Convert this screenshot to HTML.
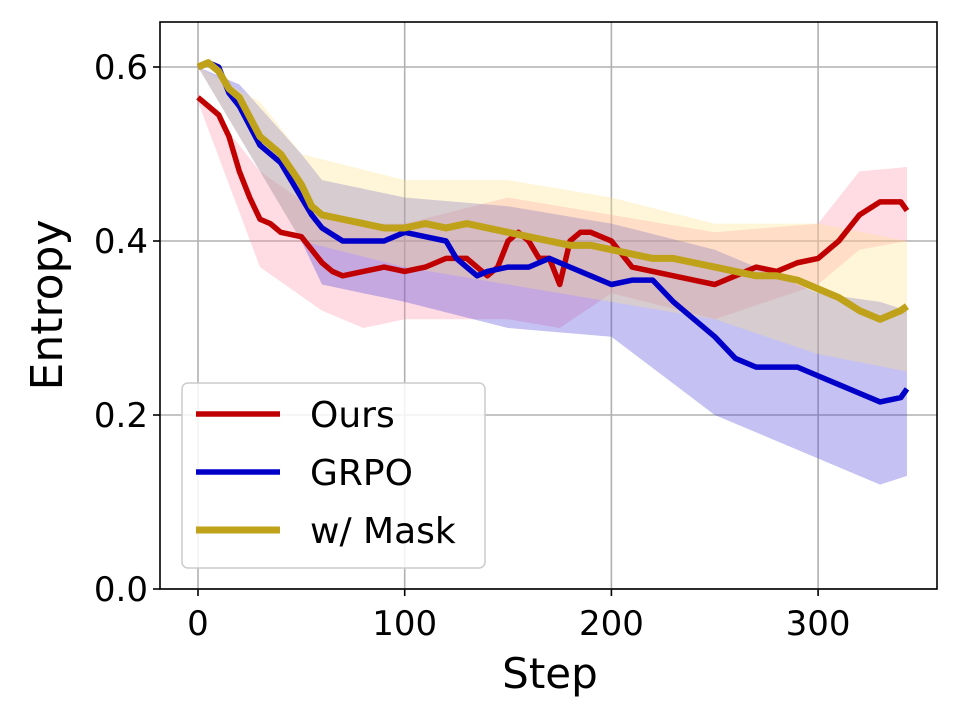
<!DOCTYPE html>
<html><head><meta charset="utf-8"><style>
html,body{margin:0;padding:0;background:#fff}
svg{display:block;font-family:"DejaVu Sans","Liberation Sans",sans-serif}
</style></head><body>
<svg id="chart" width="960" height="720"></svg>
<script>
const xTicks=[0,100,200,300];
const yTicks=[0.0,0.2,0.4,0.6];
const yTickLabels=["0.0","0.2","0.4","0.6"];
const oursSteps=[0,5,10,15,20,25,30,35,40,50,55,60,65,70,80,90,100,110,120,130,140,145,150,155,160,165,170,175,180,185,190,200,210,220,230,240,250,260,270,280,290,300,310,320,330,340,343];
const oursVals=[0.565,0.555,0.545,0.52,0.48,0.45,0.425,0.42,0.41,0.405,0.39,0.375,0.365,0.36,0.365,0.37,0.365,0.37,0.38,0.38,0.36,0.37,0.4,0.41,0.4,0.38,0.38,0.35,0.4,0.41,0.41,0.4,0.37,0.365,0.36,0.355,0.35,0.36,0.37,0.365,0.375,0.38,0.4,0.43,0.445,0.445,0.435];
const oursBandSteps=[0,30,60,80,100,150,175,200,250,300,320,343];
const oursUpper=[0.57,0.48,0.43,0.42,0.42,0.45,0.44,0.43,0.41,0.42,0.48,0.485];
const oursLower=[0.56,0.37,0.32,0.30,0.31,0.31,0.30,0.34,0.31,0.35,0.39,0.40];
const grpoSteps=[0,5,10,15,20,30,40,45,50,55,60,70,80,90,100,110,120,125,130,135,140,150,160,170,180,190,200,210,220,230,240,250,260,270,280,290,300,310,320,330,340,343];
const grpoVals=[0.6,0.605,0.6,0.57,0.555,0.51,0.49,0.47,0.45,0.43,0.415,0.4,0.4,0.4,0.41,0.405,0.4,0.38,0.37,0.36,0.365,0.37,0.37,0.38,0.37,0.36,0.35,0.355,0.355,0.33,0.31,0.29,0.265,0.255,0.255,0.255,0.245,0.235,0.225,0.215,0.22,0.23];
const grpoBandSteps=[0,20,50,60,80,100,150,200,250,300,330,343];
const grpoUpper=[0.6,0.58,0.5,0.47,0.46,0.45,0.44,0.42,0.39,0.34,0.33,0.32];
const grpoLower=[0.6,0.52,0.4,0.35,0.34,0.33,0.3,0.29,0.2,0.15,0.12,0.13];
const maskSteps=[0,5,10,15,20,30,40,50,55,60,70,80,90,100,110,120,130,140,150,160,170,180,190,200,210,220,230,240,250,260,270,280,290,300,310,320,330,340,343];
const maskVals=[0.6,0.605,0.595,0.575,0.565,0.52,0.5,0.465,0.44,0.43,0.425,0.42,0.415,0.415,0.42,0.415,0.42,0.415,0.41,0.405,0.4,0.395,0.395,0.39,0.385,0.38,0.38,0.375,0.37,0.365,0.36,0.36,0.355,0.345,0.335,0.32,0.31,0.32,0.325];
const maskBandSteps=[0,30,50,100,150,200,250,300,343];
const maskUpper=[0.6,0.56,0.5,0.47,0.47,0.45,0.42,0.42,0.4];
const maskLower=[0.6,0.48,0.4,0.37,0.35,0.33,0.31,0.27,0.25];

const NS="http://www.w3.org/2000/svg";
const svg=document.getElementById('chart');
const L=160,R=937,T=22,B=589;
const xs=v=>198+v*2.067;
const ys=v=>589-v*870;
function mk(tag,attrs,parent){const e=document.createElementNS(NS,tag);for(const k in attrs)e.setAttribute(k,attrs[k]);(parent||svg).appendChild(e);return e;}
xTicks.forEach((t,i)=>{
 const g=mk('line',{x1:xs(t),x2:xs(t),y1:T,y2:B,stroke:'#b0b0b0','stroke-width':1.6});
 
 
 const tk=mk('line',{x1:xs(t),x2:xs(t),y1:B,y2:B+7,stroke:'#000','stroke-width':1.6});
 
 
 const tx=mk('text',{x:xs(t),y:B+46,'font-size':34,'text-anchor':'middle'});tx.textContent=t;
 
 
});
yTicks.forEach((t,i)=>{
 const g=mk('line',{x1:L,x2:R,y1:ys(t),y2:ys(t),stroke:'#b0b0b0','stroke-width':1.6});
 
 
 const tk=mk('line',{x1:L-7,x2:L,y1:ys(t),y2:ys(t),stroke:'#000','stroke-width':1.6});
 
 
 const tx=mk('text',{x:L-12,y:ys(t)+12,'font-size':34,'text-anchor':'end'});tx.textContent=yTickLabels[i];
 
 
});
function band(st,up,lo,color,name){
 let d='M'+st.map((s,i)=>xs(s)+','+ys(up[i])).join('L');
 for(let i=st.length-1;i>=0;i--)d+='L'+xs(st[i])+','+ys(lo[i]);
 const p=mk('path',{d:d+'Z',fill:color,'fill-opacity':0.32,stroke:'none'});
 
 
}
function line(st,v,color,w,name){
 const p=mk('polyline',{points:st.map((s,i)=>xs(s)+','+ys(v[i])).join(' '),fill:'none',stroke:color,'stroke-width':w,'stroke-linejoin':'round'});
 
 
}
band(oursBandSteps,oursUpper,oursLower,'#ff8fa8','ours-band');
band(grpoBandSteps,grpoUpper,grpoLower,'#4a3fd8','grpo-band');
band(maskBandSteps,maskUpper,maskLower,'#ffe48a','mask-band');
line(oursSteps,oursVals,'#c00000',5.5,'ours-line');
line(grpoSteps,grpoVals,'#0000c8',5.5,'grpo-line');
line(maskSteps,maskVals,'#bfa21a',7,'mask-line');
const fr=mk('rect',{x:L,y:T,width:R-L,height:B-T,fill:'none',stroke:'#000','stroke-width':1.6});


const lg=mk('g',{});


mk('rect',{x:182,y:383,width:303,height:185,rx:6,fill:'#fff','fill-opacity':0.85,stroke:'#ccc','stroke-width':1.5},lg);
const names=['Ours','GRPO','w/ Mask'],cols=['#c00000','#0000c8','#bfa21a'],ws=[5.5,5.5,7];
names.forEach((n,i)=>{
 const y=414+i*58;
 const e=mk('g',{},lg);
 
 
 mk('line',{x1:196,x2:280,y1:y,y2:y,stroke:cols[i],'stroke-width':ws[i]},e);
 const t=mk('text',{x:310,y:y+13,'font-size':36},e);t.textContent=n;
});
const xl=mk('text',{x:550,y:688,'font-size':42,'text-anchor':'middle'});xl.textContent='Step';


const yl=mk('text',{x:0,y:0,'font-size':44,'text-anchor':'middle',transform:'translate(62,305) rotate(-90)'});yl.textContent='Entropy';


</script>
</body></html>
